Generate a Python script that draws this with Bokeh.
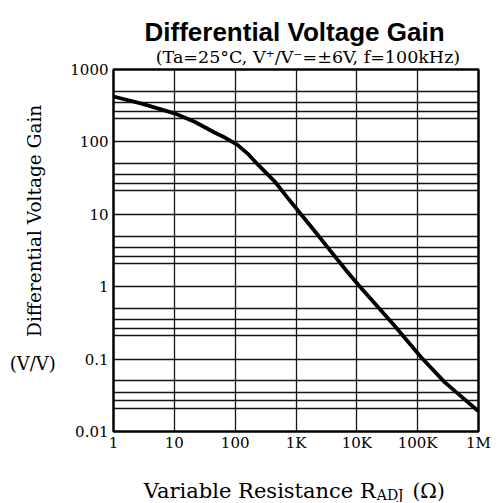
from bokeh.plotting import figure
from bokeh.models import FixedTicker, Label, Range1d
from bokeh.embed import file_html
from bokeh.resources import INLINE
import math

# ---- data ----
resistance = [1, 3, 10, 21.5, 45.8, 70, 108, 160, 235, 441, 686, 1100, 2200, 3600, 6800,
              11000, 40000, 115000, 277000, 1000000]
gain = [424, 335, 248, 190, 135, 113, 91.6, 69, 48.8, 28.8, 18.0, 11.0, 5.4, 3.2, 1.65,
        1.02, 0.30, 0.105, 0.048, 0.019]

x_ticks = [1, 10, 100, 1000, 10000, 100000, 1000000]
x_tick_labels = ["1", "10", "100", "1K", "10K", "100K", "1M"]
y_ticks = [0.01, 0.1, 1, 10, 100, 1000]
y_tick_labels = ["0.01", "0.1", "1", "10", "100", "1000"]
y_minor_multipliers = [2.1, 2.65, 3.5, 5.0]

title_text = "Differential Voltage Gain"
subtitle_text = "(Ta=25°C, V⁺/V⁻=±6V, f=100kHz)"
y_label_text = "Differential Voltage Gain"
y_unit_text = "(V/V)"
x_label_main = "Variable Resistance R"
x_label_sub = "ADJ"
x_label_unit = "(Ω)"

SERIF = "DejaVu Serif"

W, H = 498, 502
FL, FR, FT, FB = 112, 478, 69, 435   # frame edges in canvas pixels
X0, X1, Y0, Y1 = 1.0, 1e6, 0.01, 1000.0

p = figure(width=W, height=H, x_axis_type="log", y_axis_type="log",
           x_range=Range1d(X0, X1), y_range=Range1d(Y0, Y1),
           output_backend="svg", toolbar_location=None,
           min_border_left=FL, min_border_right=W - FR,
           min_border_top=FT, min_border_bottom=H - FB)

p.background_fill_color = "white"
p.border_fill_color = "white"
p.outline_line_color = "black"
p.outline_line_width = 2.5

y_minor = [m * t for t in y_ticks[:-1] for m in y_minor_multipliers]

p.xaxis.ticker = FixedTicker(ticks=x_ticks, minor_ticks=[])
p.yaxis.ticker = FixedTicker(ticks=y_ticks, minor_ticks=y_minor)
p.xaxis.major_label_overrides = dict(zip(x_ticks, x_tick_labels))
p.yaxis.major_label_overrides = dict(zip(y_ticks, y_tick_labels))

for ax in (p.xaxis[0], p.yaxis[0]):
    ax.axis_line_color = None
    ax.major_tick_line_color = None
    ax.minor_tick_line_color = None
    ax.major_tick_out = 0
    ax.major_tick_in = 0
    ax.minor_tick_out = 0
    ax.minor_tick_in = 0
    ax.major_label_text_font = SERIF
    ax.major_label_text_font_size = "15px"
    ax.major_label_text_color = "black"
p.xaxis.major_label_standoff = 2
p.yaxis.major_label_standoff = 5

p.xgrid.grid_line_color = "#151515"
p.xgrid.grid_line_width = 1.3
p.ygrid.grid_line_color = "#151515"
p.ygrid.grid_line_width = 1.3
p.ygrid.minor_grid_line_color = "#151515"
p.ygrid.minor_grid_line_width = 1.3

p.line(resistance, gain, line_color="black", line_width=3.8, line_join="round")

# ---- texts: placed in side panels (unclipped), positioned through the plot scales ----
LX0, LX1 = math.log10(X0), math.log10(X1)
LY0, LY1 = math.log10(Y0), math.log10(Y1)

def px_x(px):
    return 10 ** (LX0 + (px - FL) / (FR - FL) * (LX1 - LX0))

def px_y(py):
    return 10 ** (LY1 - (py - FT) / (FB - FT) * (LY1 - LY0))

def lab(text, px, py, size, font=SERIF, align="center", baseline="alphabetic", **kw):
    return Label(x=px_x(px), y=px_y(py), text=text,
                 text_font=font, text_font_size=size, text_align=align,
                 text_baseline=baseline, text_color="black", **kw)

p.add_layout(lab(title_text, 293.5, 31, "26px", font="Liberation Sans",
                 text_font_style="bold"), "above")
p.add_layout(lab(subtitle_text, 307, 56, "17.5px"), "above")
p.add_layout(lab(x_label_sub, 376, 499, "14px", align="left"), "above")

p.add_layout(lab(y_label_text, 33, 222, "18.5px", baseline="middle", angle=math.pi / 2), "left")
p.add_layout(lab(y_unit_text, 31, 366, "18px", baseline="middle"), "left")

p.add_layout(lab(x_label_main, 375, 495, "21px", align="right"), "below")
p.add_layout(lab(x_label_unit, 428, 495, "20px"), "below")

open("out.html", "w").write(file_html(p, INLINE))
